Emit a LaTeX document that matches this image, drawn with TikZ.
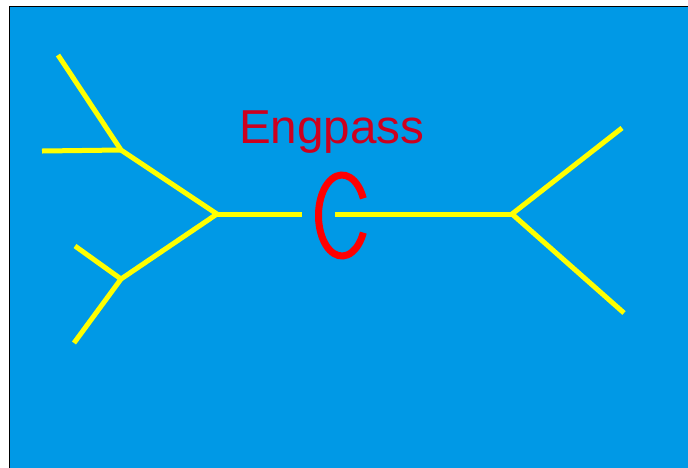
\documentclass[tikz,border=0pt]{standalone}
\usepackage{fontspec}
\setmainfont{Liberation Sans}
\definecolor{bgblue}{RGB}{0,153,230}
\definecolor{branch}{RGB}{255,255,0}
\definecolor{labelred}{RGB}{205,0,30}
\begin{document}
\begin{tikzpicture}[x=1pt,y=-1pt,
  branchline/.style={draw=branch,line width=5pt,line cap=butt,line join=miter},
  labeltext/.style={text=labelred,font=\fontsize{47.6}{50}\selectfont,inner sep=0pt,anchor=base west}]
\useasboundingbox (0,0) rectangle (688,467);
\fill[white] (0,0) rectangle (688,467);
\filldraw[fill=bgblue,draw=black,line width=1.5pt] (9.5,6.5) rectangle (700,480);
\fill[white] (0,0) rectangle (8.5,467);
\fill[white] (0,0) rectangle (688,5.5);
% junctions
\coordinate (A) at (217,214);
\coordinate (B) at (121,150);
\coordinate (C) at (121,279);
\coordinate (D) at (512,214);
\coordinate (b1) at (58,55);
\coordinate (b2) at (42,151);
\coordinate (c1) at (75,246);
\coordinate (c2) at (74,343);
\coordinate (d1) at (622,128);
\coordinate (d2) at (624,313);
\coordinate (gl) at (302,214);
\coordinate (gr) at (335,214);
\coordinate (ec) at (342,215.5);
\draw[branchline] (b1) -- (B) -- (A) -- (C) -- (c2);
\draw[branchline] (b2) -- (B);
\draw[branchline] (c1) -- (C);
\draw[branchline] (A) -- (gl);
\draw[branchline] (gr) -- (D);
\draw[branchline] (d1) -- (D) -- (d2);
\draw[red,line width=7pt,line cap=butt]
  ([shift={(25:23.5pt and 40.5pt)}]ec) arc[start angle=25,end angle=335,x radius=23.5pt,y radius=40.5pt];
\node[labeltext] (eng) at (239,143) {Engpass};
\end{tikzpicture}
\end{document}
